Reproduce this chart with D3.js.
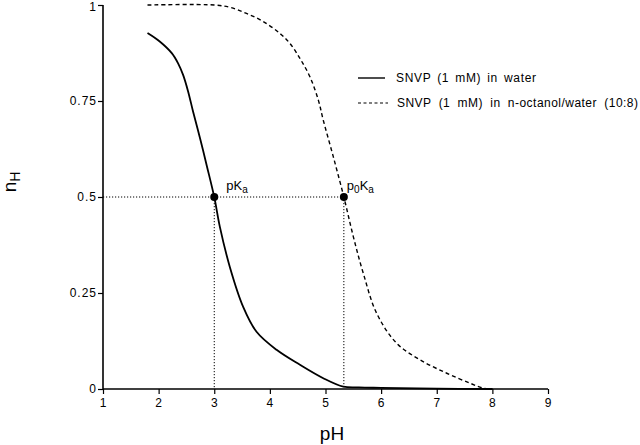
<!DOCTYPE html>
<html>
<head>
<meta charset="utf-8">
<script src="https://cdn.jsdelivr.net/npm/d3@7"></script>
<style>
  body { margin: 0; background: #fff; }
  text { font-family: "Liberation Sans", Arial, sans-serif; fill: #000; }
</style>
</head>
<body>
<svg id="chart" width="640" height="445"></svg>
<script>
// curve
const waterPH = [1.8, 2.02, 2.24, 2.35, 2.44, 2.53, 2.62, 2.75, 2.87, 3.0, 3.1, 3.28, 3.52, 3.76, 4.12, 4.54, 4.96, 5.32, 5.6, 6.0, 7.0, 8.0]
const waterNH = [0.927, 0.905, 0.874, 0.848, 0.818, 0.775, 0.722, 0.65, 0.579, 0.5, 0.423, 0.318, 0.214, 0.149, 0.102, 0.063, 0.028, 0.006, 0.004, 0.003, 0.001, 0.0]

const octPH = [1.8, 3.0, 3.28, 3.58, 3.88, 4.18, 4.36, 4.54, 4.72, 4.87, 4.96, 5.14, 5.33, 5.5, 5.68, 5.92, 6.28, 6.7, 7.18, 7.6, 7.84, 8.0]
const octNH = [1.0, 1.0, 0.994, 0.978, 0.957, 0.926, 0.9, 0.861, 0.813, 0.753, 0.7, 0.605, 0.5, 0.397, 0.301, 0.197, 0.119, 0.076, 0.041, 0.015, 0.002, 0.0]

const pKa = [3.0, 0.5]
const p0Ka = [5.33, 0.5]

const xTicks = [1, 2, 3, 4, 5, 6, 7, 8, 9]
const yTicks = [0, 0.25, 0.5, 0.75, 1]
const yTickLabels = ['0', '0.25', '0.5', '0.75', '1']

const legendLabels = ['SNVP (1 mM)  in water', 'SNVP (1 mM) in n-octanol/water (10:8)']

const svg = d3.select('#chart')

const x = d3.scaleLinear().domain([1, 9]).range([103, 548])
const y = d3.scaleLinear().domain([0, 1]).range([389, 5])

/* axes */
const xAxis = svg.append('g')
  .attr('transform', `translate(0,${y(0)})`)
  .call(d3.axisBottom(x).tickValues(xTicks).tickSize(5).tickPadding(4).tickFormat(d3.format('d')))
const yAxis = svg.append('g')
  .attr('transform', `translate(${x(1)},0)`)
  .call(d3.axisLeft(y).tickValues(yTicks).tickSize(5).tickPadding(2).tickFormat((d, i) => yTickLabels[i]))

xAxis.select('.domain').attr('d', `M${x(1)},0H${x(9)}`)
yAxis.select('.domain').attr('d', `M0,${y(0)}V${y(1)}`)
svg.selectAll('.domain').attr('stroke', '#000').attr('stroke-width', 1.6)
svg.selectAll('.tick line').attr('stroke', '#000').attr('stroke-width', 1.2)
svg.selectAll('.tick text').attr('font-size', 12).attr('letter-spacing', 1)
  .attr('font-family', '"Liberation Sans", Arial, sans-serif').attr('fill', '#000')
yAxis.selectAll('.tick text').attr('dx', 1)
// the top label sits against the edge in the original too; nudge it inside
yAxis.selectAll('.tick text').filter(d => d === 1).attr('dy', '0.36em').attr('y', 1)

/* reference lines */
const refs = svg.append('g')
  .attr('fill', 'none').attr('stroke', '#000').attr('stroke-width', 1).attr('stroke-dasharray', '1.2,1.8')
refs.append('line').attr('x1', x(1)).attr('x2', x(p0Ka[0])).attr('y1', y(0.5)).attr('y2', y(0.5))
refs.append('line').attr('x1', x(pKa[0])).attr('x2', x(pKa[0])).attr('y1', y(0.5)).attr('y2', y(0))
refs.append('line').attr('x1', x(p0Ka[0])).attr('x2', x(p0Ka[0])).attr('y1', y(0.5)).attr('y2', y(0))

/* curves */
const line = d3.line().x(d => x(d[0])).y(d => y(d[1])).curve(d3.curveCatmullRom.alpha(0.5))
svg.append('path')
  .datum(d3.zip(waterPH, waterNH))
  .attr('fill', 'none').attr('stroke', '#000').attr('stroke-width', 1.8)
  .attr('d', line)
svg.append('path')
  .datum(d3.zip(octPH, octNH))
  .attr('fill', 'none').attr('stroke', '#000').attr('stroke-width', 1.4)
  .attr('stroke-dasharray', '4,3')
  .attr('d', line)

/* points */
svg.selectAll('circle.pt').data([pKa, p0Ka]).enter()
  .append('circle').attr('class', 'pt')
  .attr('cx', d => x(d[0])).attr('cy', d => y(d[1])).attr('r', 4).attr('fill', '#000')

const t1 = svg.append('text').attr('x', x(pKa[0]) + 12).attr('y', y(0.5) - 7).attr('font-size', 13)
t1.append('tspan').text('pK')
t1.append('tspan').attr('font-size', 10).attr('dy', 3).text('a')

const t2 = svg.append('text').attr('x', x(p0Ka[0]) + 3).attr('y', y(0.5) - 7).attr('font-size', 13)
t2.append('tspan').text('p')
t2.append('tspan').attr('font-size', 10).attr('dy', 3).text('0')
t2.append('tspan').attr('dy', -3).text('K')
t2.append('tspan').attr('font-size', 10).attr('dy', 3).text('a')

/* legend */
const legend = svg.append('g').attr('transform', 'translate(358,78)')
legend.append('line').attr('x1', 0).attr('x2', 27).attr('y1', 0).attr('y2', 0)
  .attr('stroke', '#000').attr('stroke-width', 1.4)
legend.append('line').attr('x1', 0).attr('x2', 30).attr('y1', 25).attr('y2', 25)
  .attr('stroke', '#000').attr('stroke-width', 1.2).attr('stroke-dasharray', '3,2.5')
legend.selectAll('text.lg').data(legendLabels).enter()
  .append('text').attr('class', 'lg')
  .attr('x', (d, i) => i === 0 ? 38 : 39)
  .attr('y', (d, i) => 4 + i * 25)
  .attr('font-size', 12)
  .attr('word-spacing', (d, i) => i === 0 ? 2 : 3.5)
  .attr('textLength', (d, i) => i === 0 ? 140 : 241)
  .text(d => d)

/* axis titles */
svg.append('text').attr('x', 332).attr('y', 440).attr('text-anchor', 'middle')
  .attr('font-size', 19).text('pH')
const yt = svg.append('text').attr('transform', 'translate(16,182) rotate(-90)')
  .attr('text-anchor', 'middle').attr('font-size', 19)
yt.append('tspan').text('n')
yt.append('tspan').attr('font-size', 14).attr('dy', 4).text('H')
</script>
</body>
</html>
